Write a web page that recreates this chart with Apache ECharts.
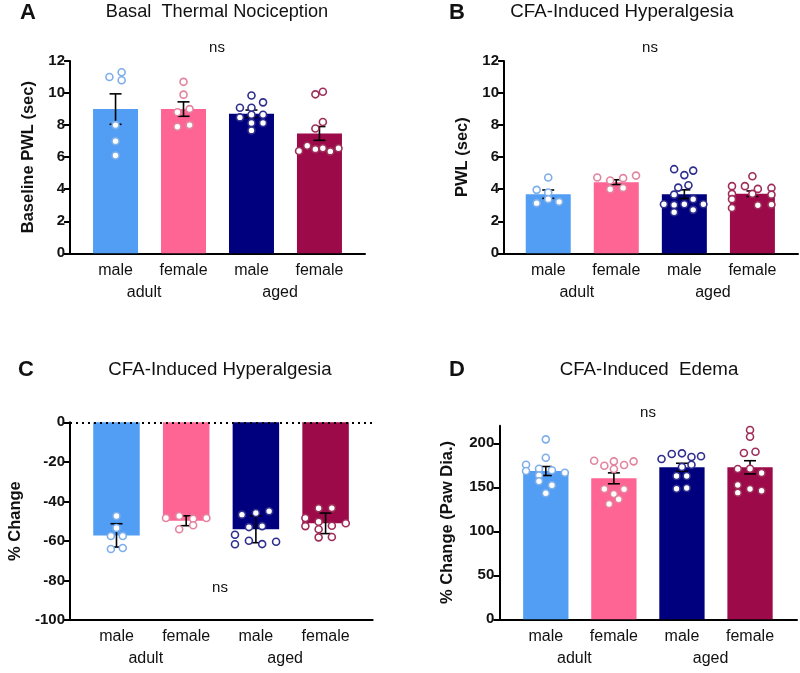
<!DOCTYPE html>
<html><head><meta charset="utf-8">
<script src="https://cdn.jsdelivr.net/npm/echarts@6/dist/echarts.min.js"></script>
<style>html,body{margin:0;padding:0;background:#fff}#c{width:800px;height:673px}</style>
</head><body><div id="c"></div><script>
// ---------- data ----------
const sexLabels = ['male', 'female', 'male', 'female'];
const ageLabels = ['adult', 'aged'];

// Panel A: Basal thermal nociception (Baseline PWL, sec)
const aMeans = [9.0, 9.0, 8.71, 7.48];
const aErr = [0.95, 0.45, 0.23, 0.43];
const aAdultMale = [11.0, 11.3, 10.8, 8.0, 7.0, 6.1];
const aAdultFemale = [10.7, 9.9, 8.8, 9.0, 7.9, 8.0];
const aAgedMale = [9.85, 9.08, 9.08, 9.42, 8.48, 8.65, 8.65, 8.13, 7.67, 8.13];
const aAgedFemale = [9.92, 10.08, 8.19, 7.79, 6.38, 6.71, 6.5, 6.56, 6.36, 6.56];

// Panel B: CFA-induced hyperalgesia (PWL, sec)
const bMeans = [3.69, 4.44, 3.69, 3.72];
const bErr = [0.26, 0.15, 0.27, 0.17];
const bAdultMale = [4.73, 3.96, 3.79, 3.13, 3.38, 3.21];
const bAdultFemale = [4.73, 4.54, 4.69, 4.85, 4.0, 4.08];
const bAgedMale = [5.25, 5.16, 4.88, 4.1, 4.25, 3.66, 3.06, 3.02, 3.06, 3.38, 3.06, 2.56, 2.71];
const bAgedFemale = [4.81, 4.19, 4.19, 4.02, 4.08, 3.71, 3.71, 3.66, 3.38, 2.83, 3.0, 3.04];

// Panel C: CFA-induced hyperalgesia (% change)
const cMeans = [-57.2, -49.8, -54.1, -51.1];
const cErr = [5.9, 2.5, 6.8, 5.2];
const cAdultMale = [-47.4, -53.5, -57.5, -57.5, -64.1, -63.6];
const cAdultFemale = [-48.4, -47.4, -48.8, -48.4, -54.1, -52.1];
const cAgedMale = [-46.7, -45.9, -45.0, -53.0, -52.5, -56.9, -61.7, -59.9, -61.6, -60.4];
const cAgedFemale = [-48.4, -43.5, -43.4, -50.3, -52.5, -54.1, -52.3, -51.1, -58.2, -58.0];

// Panel D: CFA-induced edema (% change paw diameter)
const dMeans = [168.5, 160.2, 172.7, 172.7];
const dErr = [5.1, 6.2, 4.6, 7.5];
const dAdultMale = [204.5, 183.6, 175.7, 171.1, 169.3, 168.5, 166.6, 163.6, 156.8, 152.3, 143.2];
const dAdultFemale = [180.2, 174.5, 179.5, 175.3, 179.5, 170.8, 148.1, 142.4, 136.4, 131.0, 147.7];
const dAgedMale = [182.2, 187.8, 188.6, 184.4, 185.2, 173.1, 175.7, 162.8, 162.8, 148.4, 149.2];
const dAgedFemale = [215.1, 207.5, 189.0, 190.4, 170.8, 171.1, 166.3, 152.6, 148.1, 146.1, 143.9];

// horizontal scatter jitter (layout only, in category widths)
const aJit = [[-0.09,0.09,0.09,0,0,0],[0,0,-0.09,0.09,-0.09,0.09],[0,-0.17,0,0.17,-0.17,0,0.17,0,0,0.17],[-0.06,0.05,0.05,-0.06,-0.3,-0.18,-0.06,0.05,0.16,0.28]];
const bJit = [[0,-0.17,0,-0.17,0,0.16],[-0.28,-0.09,0.1,0.29,-0.09,0.1],[-0.15,0.13,0,-0.09,0.06,-0.15,-0.3,-0.15,0,0.13,0.28,-0.15,0.13],[0,-0.3,-0.11,0.08,0.28,-0.3,0,0.28,-0.3,-0.3,0.08,0.28]];
const cJit = [[0,0,-0.08,0.09,-0.08,0.09],[-0.29,-0.1,0.1,0.29,-0.1,0.1],[-0.2,0,0.19,-0.1,0.09,-0.3,-0.3,-0.1,0.09,0.29],[-0.29,-0.1,0.09,-0.1,-0.29,-0.1,0.09,0.29,-0.1,0.09]];
const dJit = [[0,0,-0.29,-0.1,0.09,-0.29,0.28,-0.1,-0.1,0.09,0],[-0.29,-0.14,0,0.15,0.29,0,-0.14,0,0.07,-0.07,0.15],[-0.3,-0.15,0,0.14,0.28,0,0.14,-0.08,0.07,-0.08,0.07],[0,0,-0.09,0.08,-0.18,0,0.17,-0.18,0,0.17,-0.18]];

// ---------- style ----------
const FONT = 'Liberation Sans, Arial, sans-serif';
const barColors = ['#519EF4', '#FE6595', '#00007E', '#9C0A4A'];
const ptBorder = ['#7EAEEA', '#E3849F', '#2E2E8E', '#9E2E58'];

const panels = [
  {means: aMeans, err: aErr, pts: [aAdultMale, aAdultFemale, aAgedMale, aAgedFemale], jit: aJit,
   grid: {left: 70, top: 61, width: 295, height: 192.3}, xr: [-0.67, 3.67], bw: 45,
   y: {min: 0, max: 12, interval: 2, name: 'Baseline PWL (sec)', gap: 33}},
  {means: bMeans, err: bErr, pts: [bAdultMale, bAdultFemale, bAgedMale, bAgedFemale], jit: bJit,
   grid: {left: 504, top: 61, width: 294, height: 192.3}, xr: [-0.65, 3.67], bw: 45,
   y: {min: 0, max: 12, interval: 2, name: 'PWL (sec)', gap: 33}},
  {means: cMeans, err: cErr, pts: [cAdultMale, cAdultFemale, cAgedMale, cAgedFemale], jit: cJit,
   grid: {left: 70, top: 422.3, width: 302.7, height: 197.7}, xr: [-0.667, 3.676], bw: 46.5,
   y: {min: -100, max: 0, interval: 20, name: '% Change', gap: 46}, zeroLine: true},
  {means: dMeans, err: dErr, pts: [dAdultMale, dAdultFemale, dAgedMale, dAgedFemale], jit: dJit,
   grid: {left: 499.3, top: 425.7, width: 297.7, height: 193.6}, xr: [-0.683, 3.69], bw: 45.3,
   y: {min: 0, max: 220, interval: 50, name: '% Change (Paw Dia.)', gap: 43, custom: [0, 50, 100, 150, 200]}}
];

const grid = [], xAxis = [], yAxis = [], series = [];
panels.forEach((p, i) => {
  grid.push(p.grid);
  xAxis.push({
    type: 'value', gridIndex: i, min: p.xr[0], max: p.xr[1], position: 'bottom',
    axisLine: {show: true, onZero: false, lineStyle: {color: '#000', width: 2}},
    axisTick: {show: false}, splitLine: {show: false},
    axisLabel: {customValues: [0, 1, 2, 3], formatter: v => sexLabels[Math.round(v)],
      margin: 9, fontSize: 16, color: '#111', fontFamily: FONT}
  });
  xAxis.push({
    type: 'value', gridIndex: i, min: p.xr[0], max: p.xr[1], position: 'bottom',
    axisLine: {show: false, onZero: false}, axisTick: {show: false}, splitLine: {show: false},
    axisLabel: {customValues: [0.42, 2.42], formatter: v => ageLabels[v < 1.5 ? 0 : 1],
      margin: 31, fontSize: 16, color: '#111', fontFamily: FONT}
  });
  const ya = {
    type: 'value', gridIndex: i, min: p.y.min, max: p.y.max, interval: p.y.interval,
    name: p.y.name, nameLocation: 'middle', nameGap: p.y.gap,
    nameTextStyle: {fontWeight: 'bold', fontSize: 16.5, color: '#111', fontFamily: FONT},
    axisLine: {show: true, onZero: false, lineStyle: {color: '#000', width: 2}},
    axisTick: {show: true, length: 6, lineStyle: {color: '#000', width: 2}},
    splitLine: {show: false},
    axisLabel: {fontWeight: 'bold', fontSize: 15, color: '#111', fontFamily: FONT, margin: 5}
  };
  if (p.y.custom) {
    ya.axisTick.customValues = p.y.custom;
    ya.axisLabel.customValues = p.y.custom;
  }
  yAxis.push(ya);

  const barSeries = {
    type: 'bar', xAxisIndex: i * 2, yAxisIndex: i, barWidth: p.bw, z: 2,
    data: p.means.map((m, k) => ({value: [k, m], itemStyle: {color: barColors[k]}})),
    silent: true, animation: false
  };
  if (p.zeroLine) {
    barSeries.markLine = {
      silent: true, symbol: 'none', animation: false,
      label: {show: false},
      lineStyle: {type: [2, 4], color: '#000', width: 2},
      data: [{yAxis: 0}]
    };
  }
  series.push(barSeries);

  series.push({
    type: 'custom', xAxisIndex: i * 2, yAxisIndex: i, z: 3, animation: false, silent: true,
    data: p.means.map((m, k) => [k, m, p.err[k]]),
    renderItem: (params, api) => {
      const x = api.value(0), m = api.value(1), e = api.value(2);
      const t = api.coord([x, m + e]), b = api.coord([x, m - e]);
      const cw = 6, st = {stroke: '#000', lineWidth: 1.6};
      return {type: 'group', children: [
        {type: 'line', shape: {x1: t[0], y1: t[1], x2: b[0], y2: b[1]}, style: st},
        {type: 'line', shape: {x1: t[0] - cw, y1: t[1], x2: t[0] + cw, y2: t[1]}, style: st},
        {type: 'line', shape: {x1: b[0] - cw, y1: b[1], x2: b[0] + cw, y2: b[1]}, style: st}
      ]};
    }
  });

  p.pts.forEach((vals, k) => {
    series.push({
      type: 'scatter', xAxisIndex: i * 2, yAxisIndex: i, z: 4, animation: false, silent: true,
      symbol: 'circle', symbolSize: 7,
      itemStyle: {color: '#fff', borderColor: ptBorder[k], borderWidth: 1.6, opacity: 1},
      data: vals.map((v, j) => [k + p.jit[k][j], v])
    });
  });
});

const txt = (x, y, text, size, weight, align) => ({
  type: 'text', x, y, silent: true,
  style: {text, fontSize: size, fontWeight: weight || 'normal', fontFamily: FONT, fill: '#111',
    align: align || 'center', verticalAlign: 'middle'}
});

const graphic = [
  txt(28, 13, 'A', 22, 'bold'),
  txt(217, 12, 'Basal  Thermal Nociception', 18.2),
  txt(217, 48, 'ns', 15),
  txt(457, 13, 'B', 22, 'bold'),
  txt(622, 12, 'CFA-Induced Hyperalgesia', 18.7),
  txt(650, 48, 'ns', 15),
  txt(26, 370, 'C', 22, 'bold'),
  txt(220, 370, 'CFA-Induced Hyperalgesia', 18.7),
  txt(220, 588, 'ns', 15),
  txt(457, 370, 'D', 22, 'bold'),
  txt(649, 370, 'CFA-Induced  Edema', 18.7),
  txt(648, 413, 'ns', 15)
];

const chart = echarts.init(document.getElementById('c'), null, {renderer: 'canvas'});
chart.setOption({animation: false, grid, xAxis, yAxis, series, graphic});
</script></body></html>
